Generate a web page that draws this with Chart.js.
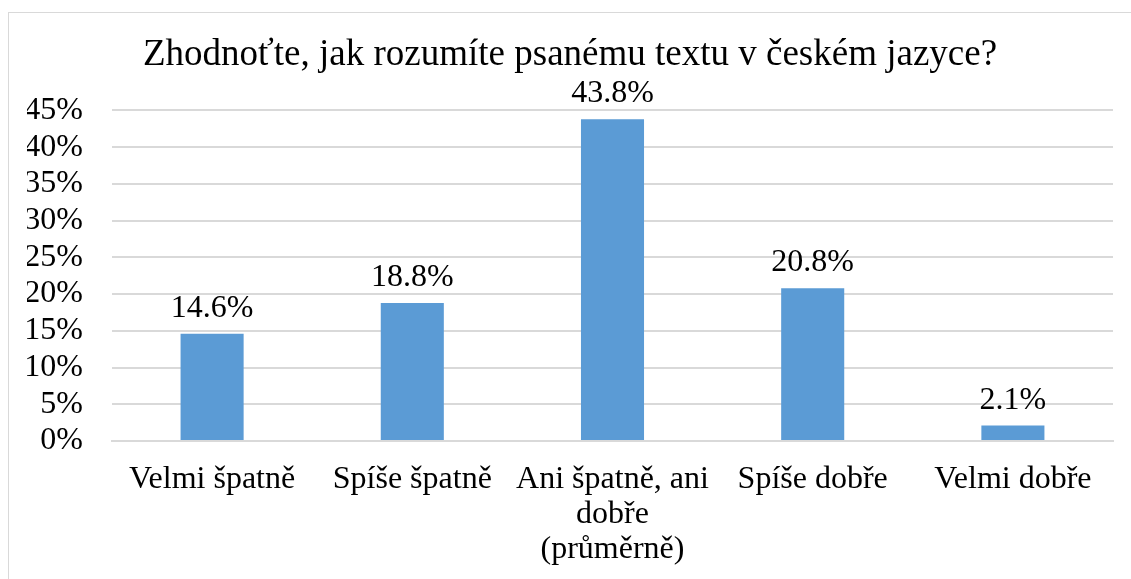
<!DOCTYPE html>
<html>
<head>
<meta charset="utf-8">
<script src="https://cdn.jsdelivr.net/npm/chart.js@4/dist/chart.umd.min.js"></script>
<style>
  html, body { margin: 0; padding: 0; background: #fff; }
  #wrap { position: relative; width: 1131px; height: 579px; overflow: hidden; }
  #frame { position: absolute; left: 8px; top: 12px; width: 1200px; height: 700px;
           border-left: 1px solid #d9d9d9; border-top: 1px solid #d9d9d9; }
  canvas { position: absolute; left: 0; top: 0; }
</style>
</head>
<body>
<div id="wrap">
  <div id="frame"></div>
  <canvas id="chart" width="1131" height="579"></canvas>
</div>
<script>
// kategorie a hodnoty (v %)
const categories = [
  "Velmi špatně",
  "Spíše špatně",
  ["Ani špatně, ani", "dobře", "(průměrně)"],
  "Spíše dobře",
  "Velmi dobře",
];
const values = [14.6, 18.8, 43.8, 20.8, 2.1];
const yMax = 45;
const yStep = 5;

const serif = "'Liberation Serif', 'Times New Roman', serif";

// popisky hodnot nad sloupci
const barLabels = {
  id: "barLabels",
  afterDatasetsDraw(chart) {
    const ctx = chart.ctx;
    const meta = chart.getDatasetMeta(0);
    ctx.save();
    ctx.font = "32px " + serif;
    ctx.fillStyle = "#000";
    ctx.textAlign = "center";
    ctx.textBaseline = "alphabetic";
    meta.data.forEach((bar, i) => {
      ctx.fillText(values[i].toFixed(1) + "%", bar.x, bar.y - 17);
    });
    ctx.restore();
  },
};

new Chart(document.getElementById("chart"), {
  type: "bar",
  data: {
    labels: categories,
    datasets: [
      {
        data: values,
        backgroundColor: "#5b9bd5",
        categoryPercentage: 1,
        barPercentage: 0.315,
      },
    ],
  },
  options: {
    responsive: false,
    animation: false,
    layout: { padding: { left: 27, right: 18, top: 33, bottom: 0 } },
    plugins: {
      legend: { display: false },
      tooltip: { enabled: false },
      title: {
        display: true,
        text: "Zhodnoťte, jak rozumíte psanému textu v českém jazyce?",
        color: "#000",
        font: { family: serif, size: 37, weight: "normal", lineHeight: 1.2 },
        padding: { top: 0, bottom: 33 },
      },
    },
    scales: {
      x: {
        afterFit(scale) {
          scale.height = 138;
        },
        grid: { display: false, drawTicks: false },
        border: { color: "#d9d9d9", width: 2 },
        ticks: {
          color: "#000",
          font: { family: serif, size: 32, lineHeight: 1.1 },
          padding: 21,
          maxRotation: 0,
          autoSkip: false,
        },
      },
      y: {
        min: 0,
        max: yMax,
        afterFit(scale) {
          scale.width = 85;
        },
        grid: { color: "#d9d9d9", lineWidth: 2, drawTicks: false },
        border: { display: false },
        ticks: {
          stepSize: yStep,
          autoSkip: false,
          color: "#000",
          font: { family: serif, size: 32 },
          padding: 29,
          callback: (v) => v + "%",
        },
      },
    },
  },
  plugins: [barLabels],
});
</script>
</body>
</html>
